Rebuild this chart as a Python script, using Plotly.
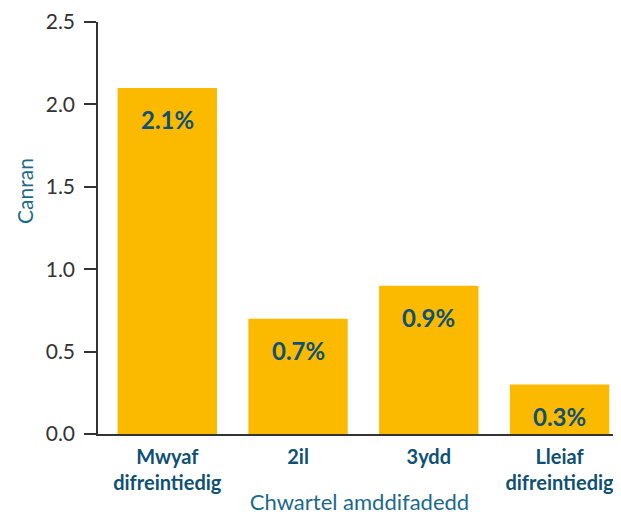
import plotly.graph_objects as go

# data
categories = ["Mwyaf<br>difreintiedig", "2il", "3ydd", "Lleiaf<br>difreintiedig"]
values = [2.1, 0.7, 0.9, 0.3]
value_labels = ["2.1%", "0.7%", "0.9%", "0.3%"]
y_ticks = [0, 0.5, 1.0, 1.5, 2.0, 2.5]

BAR = "#FBBA00"
DARK_TEAL = "#0E5173"
TEAL = "#1B6A8C"
AXIS = "#333333"
FONT = "Lato"

x_idx = list(range(len(categories)))

fig = go.Figure()
fig.add_trace(go.Bar(
    x=x_idx,
    y=values,
    marker=dict(color=BAR, line=dict(width=0)),
    width=0.76,
    hoverinfo="skip",
))

# value labels sit inside the bars, a little below the top
for xi, v, lab in zip(x_idx, values, value_labels):
    fig.add_annotation(
        x=xi, y=v, text="<b>" + lab + "</b>",
        showarrow=False, yanchor="middle", yshift=-32,
        font=dict(family=FONT, size=24, color=DARK_TEAL),
    )

# y axis title placed like the reference (not centred on the axis)
fig.add_annotation(
    text="Canran", xref="paper", yref="paper",
    x=0, y=0.59, xshift=-73, textangle=-90,
    showarrow=False, xanchor="center", yanchor="middle",
    font=dict(family=FONT, size=21, color=TEAL),
)

# the page body adds an 8px offset, so the figure is 8px smaller each way
fig.update_layout(
    width=613,
    height=507,
    margin=dict(l=90, r=0, t=12, b=81),
    plot_bgcolor="white",
    paper_bgcolor="white",
    showlegend=False,
    font=dict(family=FONT, size=20, color=AXIS),
)

fig.update_xaxes(
    range=[-0.53, 3.47],
    tickmode="array",
    tickvals=x_idx,
    ticktext=categories,
    tickfont=dict(family=FONT, size=20, color=DARK_TEAL, weight="bold"),
    ticklabelstandoff=4,
    showline=True, linecolor=AXIS, linewidth=1.5,
    showgrid=False, zeroline=False, ticks="",
    title=dict(text="Chwartel amddifadedd", standoff=4,
               font=dict(family=FONT, size=22, color=TEAL)),
)

fig.update_yaxes(
    range=[0, 2.5],
    tickmode="array",
    tickvals=y_ticks,
    tickformat=".1f",
    tickfont=dict(family=FONT, size=21, color=AXIS),
    ticks="outside", ticklen=12, tickwidth=1.5, tickcolor=AXIS,
    ticklabelstandoff=5,
    ticklabeloverflow="allow",
    showline=True, linecolor=AXIS, linewidth=1.5,
    showgrid=False, zeroline=False,
)

fig.write_html("out.html")
